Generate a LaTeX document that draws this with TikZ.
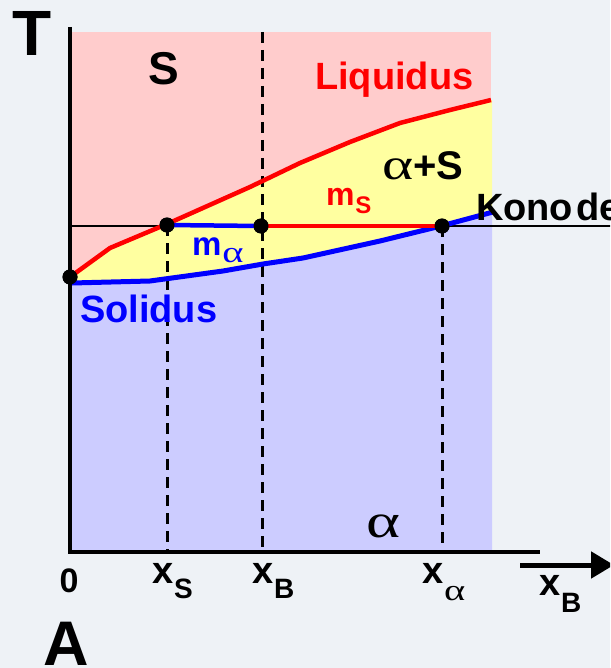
\documentclass[tikz,border=0pt]{standalone}
\usepackage{fontspec}
\setmainfont{Liberation Sans}
\newfontfamily\grk{Liberation Serif}
\usetikzlibrary{arrows.meta}
\definecolor{bgc}{RGB}{238,242,246}
\definecolor{pinkc}{RGB}{255,204,204}
\definecolor{yelc}{RGB}{255,255,160}
\definecolor{bluec}{RGB}{204,204,255}
\definecolor{redl}{RGB}{255,0,0}
\definecolor{bluel}{RGB}{0,0,255}
\newcommand{\fs}[1]{\fontsize{#1}{#1}\selectfont}
\newcommand{\walpha}[1]{\scalebox{1.35}[1]{\mdseries\grk\fs{#1}α}}
\tikzset{
  lbl/.style={inner sep=0pt, outer sep=0pt, font=\bfseries},
  dot/.style={circle, fill=black, minimum size=15pt, inner sep=0pt},
  dashv/.style={line width=3pt, dash pattern=on 11pt off 7pt},
  axis/.style={line width=4pt},
}
\begin{document}
\begin{tikzpicture}[x=1pt,y=-1pt]
\useasboundingbox (0,0) rectangle (610,668);
\clip (0,0) rectangle (610,668);
\fill[bgc] (0,0) rectangle (610,668);
% regions
\fill[pinkc] (70,32) rectangle (491,552);
\fill[yelc] (70,277) -- (110,248) -- (167,224) -- (250,187) -- (300,163) -- (350,142) -- (400,123) -- (450,110) -- (492,100)
  -- (492,212) -- (441,226) -- (380,241) -- (303,258) -- (263,264) -- (223,271) -- (150,281) -- (72,283) -- cycle;
\fill[bluec] (72,283) -- (150,281) -- (223,271) -- (263,264) -- (303,258) -- (380,241) -- (441,226) -- (492,212)
  -- (492,552) -- (70,552) -- cycle;
% points
\node[dot] (d0) at (70,277) {};
\node[dot] (dS) at (167,225) {};
\node[dot] (dB) at (261,226) {};
\node[dot] (dA) at (442,226) {};
\coordinate (kL) at (72,226);
\coordinate (kR) at (612,226);
\coordinate (bS) at (167,552);
\coordinate (tB) at (262,32);
\coordinate (bB) at (262,552);
\coordinate (bA) at (442,552);
% konode line
\draw[line width=1.6pt] (kL) -- (kR);
% dashed
\draw[dashv] (dS.center) -- (bS);
\draw[dashv] (tB) -- (bB);
\draw[dashv] (dA.center) -- (bA);
% curves
\draw[redl, line width=4.5pt, line join=round] (70,277) -- (110,248) -- (167,224) -- (250,187) -- (300,163) -- (350,142) -- (400,123) -- (450,110) -- (491,100);
\draw[bluel, line width=5pt, line join=round] (72,283) -- (150,281) -- (223,271) -- (263,264) -- (303,258) -- (380,241) -- (441,226) -- (493,212);
\draw[bluel, line width=4.5pt] (dS.center) -- (dB.center);
\draw[redl, line width=4.5pt] (dB.center) -- (dA.center);
% redraw dots on top
\node[dot] at (d0) {};
\node[dot] at (dS) {};
\node[dot] at (dB) {};
\node[dot] at (dA) {};
% axes
\coordinate (yT) at (70,27);
\coordinate (yB) at (70,554);
\coordinate (xL) at (68,552);
\coordinate (xR) at (540,552);
\draw[axis] (yT) -- (yB);
\draw[axis] (xL) -- (xR);
\coordinate (aL) at (520,565);
\coordinate (aR) at (614,565);
\draw[line width=5pt, -{Triangle[length=23pt,width=26pt]}] (aL) -- (aR);
% labels
\node[lbl, anchor=base] (T) at (32,56) {\fs{64}T};
\node[lbl, anchor=base] (S) at (164,85) {\fs{46}S};
\node[lbl, anchor=base west, text=redl] (liq) at (315,90) {\fs{38}Liquidus};
\node[lbl, anchor=base west] (aS) at (382,180) {\walpha{44}\fs{40}+S};
\node[lbl, anchor=base west, text=redl] (mS) at (326,205) {\fs{32}m\kern1pt\raisebox{-9pt}{\fs{24}S}};
\node[lbl, anchor=base west] (kon) at (476,220) {\fs{38}Kono\kern3pt de};
\node[lbl, anchor=base west, text=bluel] (ma) at (192,255) {\fs{33}m\kern1pt\raisebox{-7pt}{\walpha{30}}};
\node[lbl, anchor=base west, text=bluel] (sol) at (80,322) {\fs{38}Solidus};
\node[lbl, anchor=base] (alpha) at (383,537) {\walpha{48}};
\node[lbl, anchor=base] (zero) at (69,592) {\fs{34}0};
\node[lbl, anchor=base west] (xS) at (152,583) {\fs{38}x\kern1pt\raisebox{-15pt}{\fs{28}S}};
\node[lbl, anchor=base west] (xB) at (252,583) {\fs{38}x\kern1pt\raisebox{-15pt}{\fs{28}B}};
\node[lbl, anchor=base west] (xa) at (422,583) {\fs{38}x\kern1pt\raisebox{-17pt}{\walpha{30}}};
\node[lbl, anchor=base west] (xBr) at (539,595) {\fs{38}x\kern1pt\raisebox{-17pt}{\fs{28}B}};
\node[lbl, anchor=base] (A) at (66,665) {\fs{63}A};
\end{tikzpicture}
\end{document}
